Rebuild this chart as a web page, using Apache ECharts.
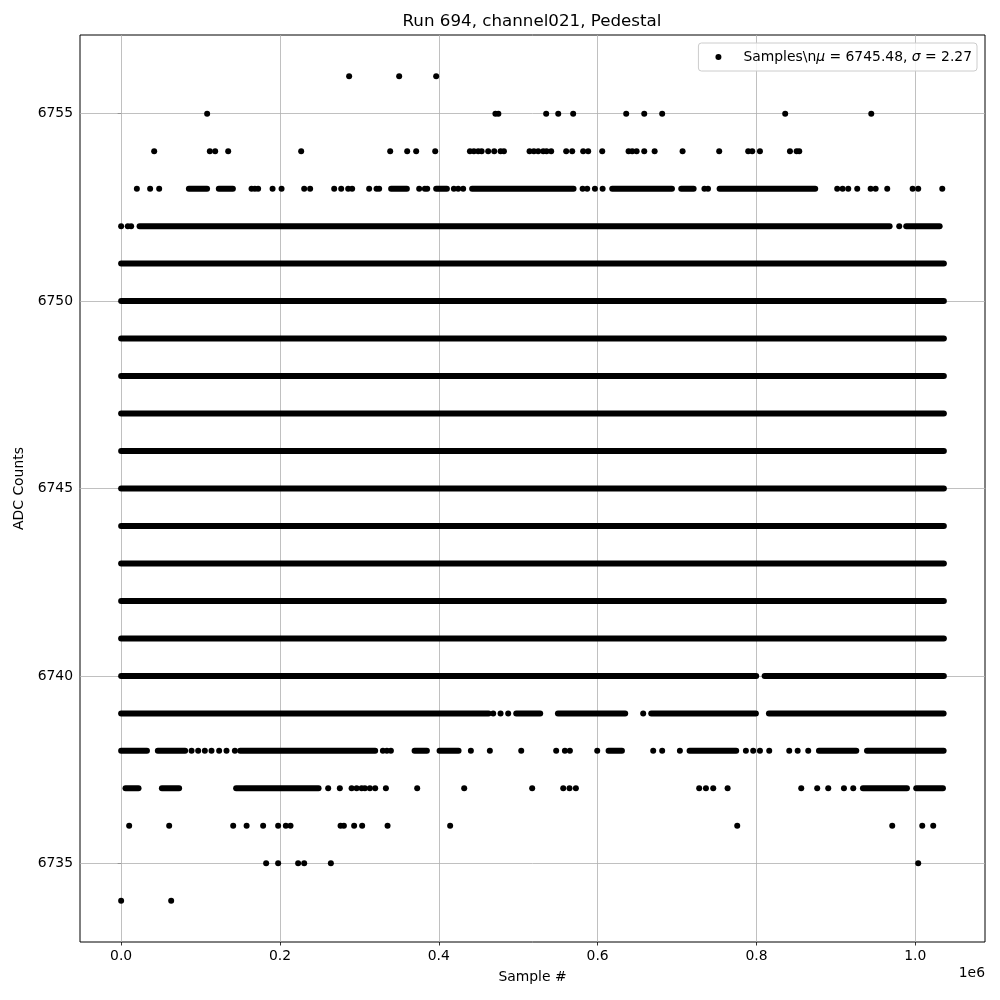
<!DOCTYPE html>
<html><head><meta charset="utf-8">
<script src="https://cdn.jsdelivr.net/npm/echarts@6/dist/echarts.min.js"></script>
<style>html,body{margin:0;padding:0;background:#fff}#c{width:1000px;height:1000px}</style>
</head><body><div id="c"></div>
<script>
const titleText = 'Run 694, channel021, Pedestal';
const xLabel = 'Sample #';
const yLabel = 'ADC Counts';
const xOffsetText = '1e6';
const legendLabel = 'Samples\\nμ = 6745.48, σ = 2.27';
const xTicks = [0, 200000, 400000, 600000, 800000, 1000000];
const yTicks = [6735, 6740, 6745, 6750, 6755];
const xRange = [-51800, 1087800];
const yRange = [6732.9, 6757.1];

// ADC levels populated continuously over the whole run
const denseLevels = [6741, 6742, 6743, 6744, 6745, 6746, 6747, 6748, 6749, 6750, 6751];
const fullRun = [0, 1036000];

// Partially populated levels: dense stretches [start, end] and isolated samples
const dots6756 = [287100, 350100, 396700];
const dots6755 = [108300, 471300, 475000, 535200, 550400, 569200, 636000, 658700, 681300, 836200, 944600];
const dots6754 = [41600, 111700, 118400, 134800, 226700, 338800, 360200, 371500, 395500, 439200, 444200, 449600, 453900, 462200, 469800, 477800, 482000, 514300, 519700, 525200, 531500, 535700, 541500, 560400, 568000, 581800, 588100, 605800, 639000, 643600, 649100, 658700, 671800, 707000, 753100, 789600, 794700, 804400, 842200, 850600, 853900];
const runs6753 = [[85300, 108200], [123000, 140700], [340000, 359800], [396700, 410200], [442000, 569700], [618400, 693600], [705300, 720900], [753600, 874000]];
const dots6753 = [19800, 36500, 47900, 164200, 168400, 172500, 190700, 202000, 230500, 238000, 268300, 277100, 285900, 290900, 312300, 321600, 324900, 375300, 382500, 385400, 419000, 424400, 430700, 581100, 586900, 596600, 606300, 734500, 739000, 901700, 908500, 915600, 926900, 943800, 950100, 964700, 996700, 1003700, 1034000];
const runs6752 = [[23200, 967700], [988600, 1030700]];
const dots6752 = [0, 8400, 12600, 979800];
const runs6740 = [[0, 799700], [810300, 1036000]];
const runs6739 = [[0, 462700], [497500, 527700], [550000, 634700], [667500, 799300], [815700, 1035700]];
const dots6739 = [468500, 477800, 487400, 657400];
const runs6738 = [[0, 32500], [46200, 80600], [149900, 319900], [369500, 385000], [401000, 424900], [613800, 630600], [715800, 774500], [878700, 925700], [939200, 1035700]];
const dots6738 = [88700, 97000, 105400, 113800, 123400, 132700, 143200, 329600, 334600, 339700, 440400, 464300, 503800, 547800, 558800, 565100, 599500, 670000, 681300, 703600, 786700, 795900, 804400, 816100, 841300, 851900, 865200];
const runs6737 = [[5500, 21900], [51300, 73000], [144800, 248600], [934100, 989500], [1001200, 1034800]];
const dots6737 = [260700, 275400, 290200, 296500, 302800, 306900, 313200, 319900, 333400, 372800, 432000, 517600, 556700, 564600, 572600, 727900, 736400, 745600, 763700, 856400, 876500, 890400, 910200, 921900];
const dots6736 = [10100, 60500, 141100, 158000, 178800, 197700, 207400, 213300, 276300, 280500, 293400, 303500, 335500, 414300, 775800, 971000, 1008800, 1022600];
const dots6735 = [182600, 197700, 222900, 230500, 264100, 1003700];
const dots6734 = [0, 63000];

// ---- build library data ----
const runTable = [];
denseLevels.forEach(y => runTable.push([fullRun[0], fullRun[1], y]));
[[6753, runs6753], [6752, runs6752], [6740, runs6740], [6739, runs6739], [6738, runs6738], [6737, runs6737]]
  .forEach(([y, rs]) => rs.forEach(r => runTable.push([r[0], r[1], y])));
const dotTable = [];
[[6756, dots6756], [6755, dots6755], [6754, dots6754], [6753, dots6753], [6752, dots6752], [6739, dots6739],
 [6738, dots6738], [6737, dots6737], [6736, dots6736], [6735, dots6735], [6734, dots6734]]
  .forEach(([y, xs]) => xs.forEach(x => dotTable.push([x, y])));

const FONT = 'DejaVu Sans';
const DOT = 6;
const chart = echarts.init(document.getElementById('c'), null, {renderer: 'canvas'});
chart.setOption({
  animation: false,
  backgroundColor: '#fff',
  title: {
    text: titleText, left: 532, top: 13, textAlign: 'center', padding: 0,
    textStyle: {fontFamily: FONT, fontSize: 16.7, fontWeight: 'normal', color: '#000'}
  },
  legend: {
    data: [{name: legendLabel, icon: 'circle'}],
    right: 23, top: 43, orient: 'horizontal',
    padding: [7, 5, 7, 17], itemWidth: 28, itemHeight: DOT,
    backgroundColor: 'rgba(255,255,255,0.8)', borderColor: '#cccccc', borderWidth: 1, borderRadius: 3,
    selectedMode: false,
    textStyle: {
      fontFamily: FONT, fontSize: 13.9, color: '#000', padding: [0, 0, 0, 6],
      rich: {
        t: {fontFamily: FONT, fontSize: 13.9, color: '#000'},
        i: {fontFamily: FONT, fontSize: 13.9, color: '#000', fontStyle: 'italic'}
      }
    },
    formatter: n => '{t|' + n.split('μ').join('}{i|μ}{t|').split('σ').join('}{i|σ}{t|') + '}',
    itemStyle: {color: '#000'}
  },
  grid: {left: 80, right: 15, top: 35, bottom: 58, show: true, borderColor: '#000', borderWidth: 1, backgroundColor: 'transparent'},
  xAxis: {
    type: 'value', min: xRange[0], max: xRange[1],
    name: xLabel, nameLocation: 'middle', nameGap: 28,
    nameTextStyle: {fontFamily: FONT, fontSize: 13.9, color: '#000'},
    axisLine: {show: false},
    axisTick: {show: true, customValues: xTicks, length: 3.5, lineStyle: {color: '#000', width: 0.8}},
    axisLabel: {customValues: xTicks, margin: 7, fontFamily: FONT, fontSize: 13.9, color: '#000',
      formatter: v => (v / 1e6).toFixed(1)},
    splitLine: {show: false}
  },
  yAxis: {
    type: 'value', min: yRange[0], max: yRange[1],
    name: yLabel, nameLocation: 'middle', nameGap: 52, nameRotate: 90,
    nameTextStyle: {fontFamily: FONT, fontSize: 13.9, color: '#000'},
    axisLine: {show: false},
    axisTick: {show: true, customValues: yTicks, length: 3.5, lineStyle: {color: '#000', width: 0.8}},
    axisLabel: {customValues: yTicks, margin: 7, fontFamily: FONT, fontSize: 13.9, color: '#000',
      formatter: v => String(Math.round(v))},
    splitLine: {show: false}
  },
  graphic: [{
    type: 'text', right: 15, top: 966,
    style: {text: xOffsetText, font: '13.9px "DejaVu Sans"', fill: '#000'}
  }],
  series: [
    {
      type: 'line', name: '__grid', data: [], z: 1, silent: true,
      markLine: {
        silent: true, symbol: ['none', 'none'], z: 1, animation: false,
        label: {show: false},
        lineStyle: {color: '#b0b0b0', width: 0.8, type: 'solid'},
        emphasis: {disabled: true},
        data: xTicks.map(v => ({xAxis: v})).concat(yTicks.map(v => ({yAxis: v})))
      }
    },
    {
      type: 'custom', name: legendLabel, z: 3, silent: true,
      data: runTable,
      encode: {x: [0, 1], y: 2},
      renderItem: (params, api) => {
        const p0 = api.coord([api.value(0), api.value(2)]);
        const p1 = api.coord([api.value(1), api.value(2)]);
        return {
          type: 'rect',
          shape: {x: p0[0] - DOT / 2, y: p0[1] - DOT / 2, width: p1[0] - p0[0] + DOT, height: DOT, r: DOT / 2},
          style: {fill: '#000'}
        };
      }
    },
    {
      type: 'scatter', name: legendLabel, z: 3, silent: true,
      symbol: 'circle', symbolSize: DOT,
      itemStyle: {color: '#000', opacity: 1},
      data: dotTable
    }
  ]
});
</script>
</body></html>
